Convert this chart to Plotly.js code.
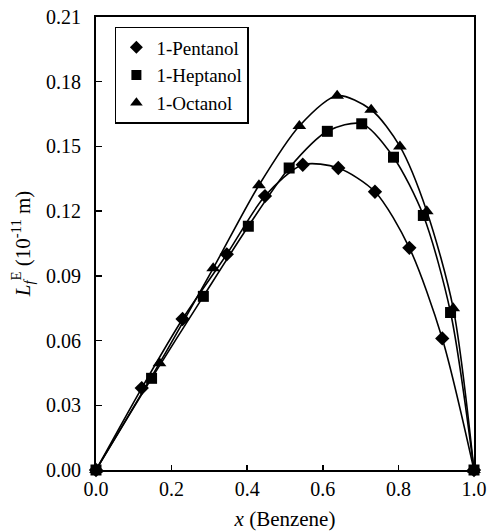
<!DOCTYPE html>
<html><head><meta charset="utf-8">
<script src="https://cdn.plot.ly/plotly-3.0.1.min.js"></script>
<style>html,body{margin:0;padding:0;background:#fff}#chart{width:489px;height:531px}</style>
</head><body><div id="chart"></div>
<script>
const seriesNames = ["1-Pentanol", "1-Heptanol", "1-Octanol"];
const xPentanol = [0, 0.121, 0.229, 0.346, 0.447, 0.547, 0.641, 0.738, 0.829, 0.916, 1.0];
const yPentanol = [0, 0.038, 0.070, 0.100, 0.127, 0.1415, 0.140, 0.129, 0.103, 0.061, 0];
const xHeptanol = [0, 0.147, 0.284, 0.403, 0.511, 0.612, 0.703, 0.787, 0.866, 0.938, 1.0];
const yHeptanol = [0, 0.0425, 0.0805, 0.113, 0.140, 0.157, 0.1605, 0.145, 0.118, 0.073, 0];
const xOctanol = [0, 0.168, 0.310, 0.431, 0.538, 0.638, 0.728, 0.804, 0.875, 0.945, 1.0];
const yOctanol = [0, 0.0495, 0.0935, 0.132, 0.1595, 0.1735, 0.167, 0.150, 0.120, 0.075, 0];
const xTicks = [0, 0.2, 0.4, 0.6, 0.8, 1.0];
const yTicks = [0, 0.03, 0.06, 0.09, 0.12, 0.15, 0.18, 0.21];

const fam = "Liberation Serif, Times New Roman, serif";
const tickFont = {family: fam, size: 20, color: "#000"};
const titleFont = {family: fam, size: 21, color: "#000"};
const legFont = {family: fam, size: 19, color: "#000"};
const symbols = ["diamond", "square", "triangle-up"];
const sizes = [11, 11, 12];
const xs = [xPentanol, xHeptanol, xOctanol];
const ys = [yPentanol, yHeptanol, yOctanol];

const data = [];
for (let i = 0; i < 3; i++) {
  data.push({x: xs[i], y: ys[i], name: seriesNames[i], type: "scatter", mode: "lines+markers",
    showlegend: false, cliponaxis: false,
    line: {color: "#000", width: 1.6, shape: "spline", smoothing: 0.8},
    marker: {symbol: symbols[i], size: sizes[i], color: "#000"}});
}
for (let i = 0; i < 3; i++) {
  data.push({x: [null], y: [null], name: seriesNames[i], type: "scatter", mode: "markers",
    showlegend: true,
    marker: {symbol: symbols[i], size: sizes[i] - 1, color: "#000"}});
}
const layout = {
  width: 489, height: 531,
  margin: {l: 96, r: 15, t: 17, b: 61},
  paper_bgcolor: "#fff", plot_bgcolor: "#fff",
  font: tickFont,
  showlegend: true,
  legend: {x: 0.05, y: 0.978, xanchor: "left", yanchor: "top",
    bordercolor: "#000", borderwidth: 1.5, bgcolor: "#fff",
    font: legFont, tracegroupgap: 0, itemwidth: 30},
  xaxis: {range: [0, 1.0], tickvals: xTicks, ticktext: xTicks.map(v => v.toFixed(1)),
    ticks: "inside", ticklen: 5, tickwidth: 1.5, tickcolor: "#000",
    showline: true, linecolor: "#000", linewidth: 2, mirror: true,
    showgrid: false, zeroline: false, tickfont: tickFont,
    title: {text: "<i>x</i> (Benzene)", font: titleFont, standoff: 12}},
  yaxis: {range: [0, 0.21], tickvals: yTicks, ticktext: yTicks.map(v => v.toFixed(2)),
    ticks: "inside", ticklen: 6, tickwidth: 1.5, tickcolor: "#000", ticklabelstandoff: 9,
    showline: true, linecolor: "#000", linewidth: 2, mirror: true,
    showgrid: false, zeroline: false, tickfont: tickFont,
    title: {text: "<i>L</i><sub><i>f</i></sub><sup>E</sup> (10<sup>-11</sup> m)", font: titleFont, standoff: 10}}
};
Plotly.newPlot("chart", data, layout, {staticPlot: true});
</script></body></html>
